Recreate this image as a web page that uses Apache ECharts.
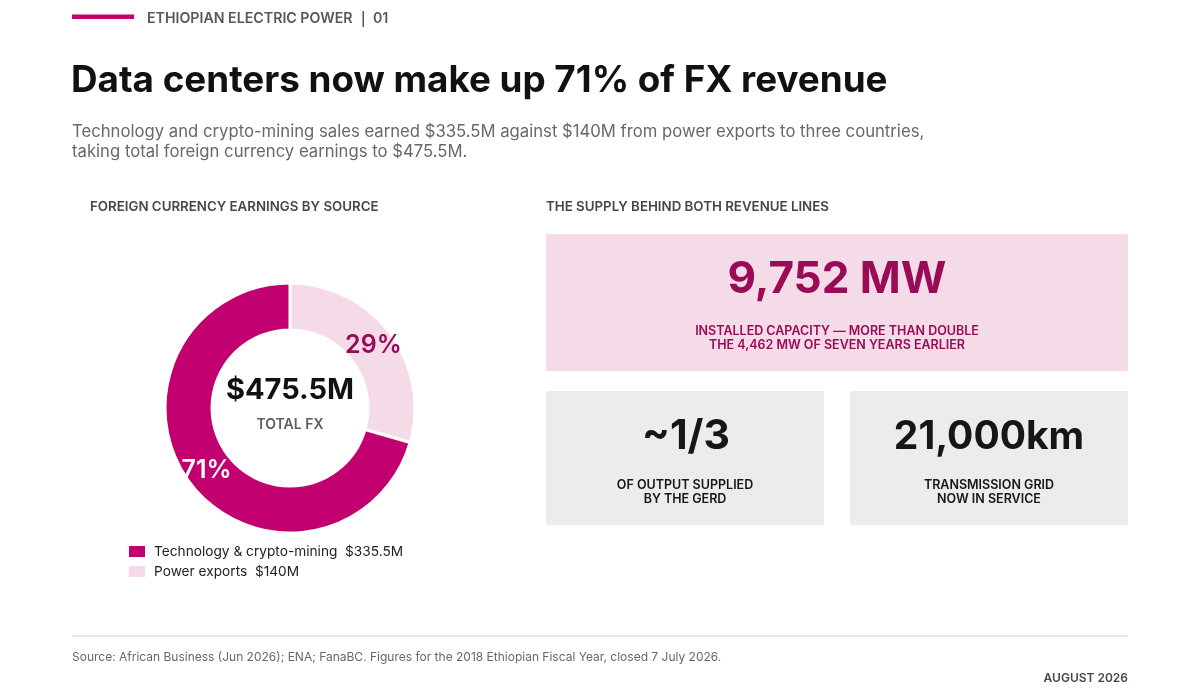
<!DOCTYPE html>
<html>
<head>
<meta charset="utf-8">
<title>Ethiopian Electric Power - FX revenue</title>
<style>
  html, body { margin: 0; padding: 0; background: #fff; }
  #chart { width: 1200px; height: 700px; }
</style>
</head>
<body>
<div id="chart"></div>
<script src="https://cdn.jsdelivr.net/npm/echarts@6.0.0/dist/echarts.min.js"></script>
<script>
// earnings by source, $M (pie runs clockwise from 12 o'clock)
var sources = ['Power exports', 'Technology & crypto-mining'];
var earnings = [140, 335.5];
var legendOrder = ['Technology & crypto-mining', 'Power exports'];
var totalFx = '$475.5M';

// supply tiles
var statValues = ['9,752 MW', '~1/3', '21,000km'];
var statLabels = [
  ['INSTALLED CAPACITY \u2014 MORE THAN DOUBLE', 'THE 4,462 MW OF SEVEN YEARS EARLIER'],
  ['OF OUTPUT SUPPLIED', 'BY THE GERD'],
  ['TRANSMISSION GRID', 'NOW IN SERVICE']
];

var MAGENTA = '#c2006f';
var PALE = '#f5dbe7';
var DARK = '#990a57';
var FONT = 'Inter, "Noto Sans", sans-serif';

var chart = echarts.init(document.getElementById('chart'));

function txt(text, x, y, size, weight, color, align) {
  return {
    type: 'text',
    style: {
      text: text, x: x, y: y,
      font: weight + ' ' + size + 'px ' + FONT,
      fill: color,
      textAlign: align || 'left',
      textVerticalAlign: 'middle'
    }
  };
}

var graphics = [
  { type: 'rect', shape: { x: 72, y: 14.5, width: 62, height: 4.5 }, style: { fill: MAGENTA } },
  txt('ETHIOPIAN ELECTRIC POWER', 147, 18.5, 14.2, 600, '#555761'),
  { type: 'rect', shape: { x: 362.5, y: 11, width: 1.5, height: 16 }, style: { fill: '#555761' } },
  txt('01', 373, 18.5, 14.2, 600, '#555761'),
  txt('Data centers now make up 71% of FX revenue', 71, 81, 36.8, 700, '#111111'),
  txt('Technology and crypto-mining sales earned $335.5M against $140M from power exports to three countries,', 72, 132, 16.7, 400, '#666870'),
  txt('taking total foreign currency earnings to $475.5M.', 72, 152, 16.7, 400, '#666870'),
  txt('FOREIGN CURRENCY EARNINGS BY SOURCE', 90, 207, 13.3, 600, '#444650'),
  txt('THE SUPPLY BEHIND BOTH REVENUE LINES', 546, 207, 13.3, 600, '#444650'),

  // donut centre
  txt(totalFx, 290, 390, 29, 700, '#111111', 'center'),
  txt('TOTAL FX', 290, 425, 14, 600, '#5c5e66', 'center'),

  // tiles
  { type: 'rect', shape: { x: 546, y: 234, width: 582, height: 137 }, style: { fill: PALE } },
  { type: 'rect', shape: { x: 546, y: 391, width: 278, height: 134 }, style: { fill: '#ececee' } },
  { type: 'rect', shape: { x: 850, y: 391, width: 278, height: 134 }, style: { fill: '#ececee' } },
  txt(statValues[0], 837, 280, 44, 700, DARK, 'center'),
  txt(statLabels[0][0], 837, 331, 12.5, 600, DARK, 'center'),
  txt(statLabels[0][1], 837, 345, 12.5, 600, DARK, 'center'),
  txt(statValues[1], 686, 437, 41, 700, '#161616', 'center'),
  txt(statLabels[1][0], 685, 485.5, 12.5, 600, '#161616', 'center'),
  txt(statLabels[1][1], 685, 499.5, 12.5, 600, '#161616', 'center'),
  txt(statValues[2], 989, 437, 39, 700, '#161616', 'center'),
  txt(statLabels[2][0], 989, 485.5, 12.5, 600, '#161616', 'center'),
  txt(statLabels[2][1], 989, 499.5, 12.5, 600, '#161616', 'center'),

  // footer
  { type: 'rect', shape: { x: 72, y: 635.5, width: 1056, height: 1 }, style: { fill: '#cfcfd2' } },
  txt('Source: African Business (Jun 2026); ENA; FanaBC. Figures for the 2018 Ethiopian Fiscal Year, closed 7 July 2026.', 72, 657, 12, 400, '#66686f'),
  txt('AUGUST 2026', 1128, 678, 12, 600, '#444650', 'right')
];

var sliceColors = [PALE, MAGENTA];
var labelColors = [DARK, '#ffffff'];

var option = {
  animation: false,
  textStyle: { fontFamily: FONT },
  legend: {
    orient: 'vertical',
    left: 127,
    top: 544,
    padding: 0,
    itemWidth: 18,
    itemHeight: 13,
    itemGap: 5,
    data: legendOrder,
    icon: 'rect',
    textStyle: { fontSize: 13.7, color: '#222222', fontFamily: FONT, padding: [0, 0, 0, 3] },
    formatter: function (name) {
      var v = earnings[sources.indexOf(name)];
      return name + '  $' + v + 'M';
    }
  },
  series: [{
    type: 'pie',
    center: [290, 408],
    radius: [78, 125],
    startAngle: 90,
    clockwise: true,
    legendHoverLink: false,
    emphasis: { disabled: true },
    itemStyle: { borderColor: '#ffffff', borderWidth: 3 },
    label: {
      show: true,
      position: 'inside',
      fontSize: 25,
      fontWeight: 600,
      fontFamily: FONT,
      formatter: function (p) { return Math.round(p.percent) + '%'; }
    },
    labelLine: { show: false },
    data: sources.map(function (name, i) {
      return {
        name: name,
        value: earnings[i],
        itemStyle: { color: sliceColors[i] },
        label: { color: labelColors[i] }
      };
    })
  }],
  graphic: graphics
};

chart.setOption(option);
</script>
</body>
</html>
